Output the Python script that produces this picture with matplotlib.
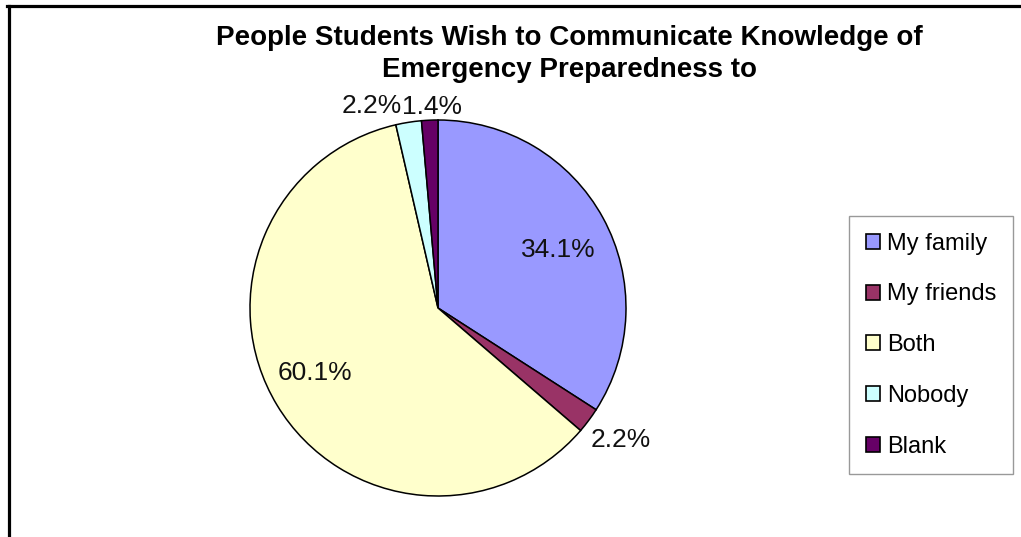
import numpy as np
import matplotlib
matplotlib.use("Agg")
import matplotlib.pyplot as plt
from matplotlib.lines import Line2D
from matplotlib.patches import Patch

plt.rcParams['font.family'] = ['Liberation Sans', 'DejaVu Sans']

title = "People Students Wish to Communicate Knowledge of\nEmergency Preparedness to"
groups = ["My family", "My friends", "Both", "Nobody", "Blank"]
shares = [34.1, 2.2, 60.1, 2.2, 1.4]
colors = ["#9999FF", "#993366", "#FFFFCC", "#CCFFFF", "#660066"]

# label placement (radius factor, angle nudge in degrees) - excel style
lab_dist = [0.71, 1.20, 0.74, 1.13, 1.07]
lab_nudge = [-3.0, 1.0, -3.3, 9.3, -0.8]

W, H = 1021, 537
fig = plt.figure(figsize=(W / 100, H / 100), dpi=100)
fig.patch.set_facecolor("white")

cx, cy, r = 438, 308, 188
ax = fig.add_axes([(cx - r) / W, (H - cy - r) / H, 2 * r / W, 2 * r / H])
wedges, _ = ax.pie(shares, colors=colors, startangle=90, counterclock=False,
                   radius=1, wedgeprops=dict(edgecolor="black", linewidth=1.1))
ax.set_xlim(-1, 1)
ax.set_ylim(-1, 1)
ax.set_aspect("equal")
ax.axis("off")

for w, v, d, nd in zip(wedges, shares, lab_dist, lab_nudge):
    ang = np.deg2rad((w.theta1 + w.theta2) / 2 + nd)
    ax.text(d * np.cos(ang), d * np.sin(ang), "%.1f%%" % v,
            ha="center", va="center", fontsize=19, color="#111111")

fig.text(0.558, 1 - 54 / H, title, ha="center", va="center", fontsize=20,
         fontweight="bold", linespacing=1.3)

handles = [Patch(facecolor=c, edgecolor="black", linewidth=1.2) for c in colors]
leg = fig.legend(handles, groups, loc="upper left",
                 bbox_to_anchor=(849 / W, 1 - 216 / H), fontsize=17,
                 frameon=True, fancybox=False, handlelength=0.6,
                 handleheight=0.6, handletextpad=0.3, labelspacing=1.22,
                 borderpad=0.7, borderaxespad=0)
leg.get_frame().set_edgecolor("#808080")
leg.get_frame().set_linewidth(1.0)

# black frame lines at the top and left of the screenshot
fig.add_artist(Line2D([7 / W, 1], [1 - 6 / H, 1 - 6 / H], color="black", lw=2.3,
                      transform=fig.transFigure))
fig.add_artist(Line2D([8.5 / W, 8.5 / W], [0, 1 - 6 / H], color="black", lw=2.3,
                      transform=fig.transFigure))

fig.savefig("out.png", dpi=100)
